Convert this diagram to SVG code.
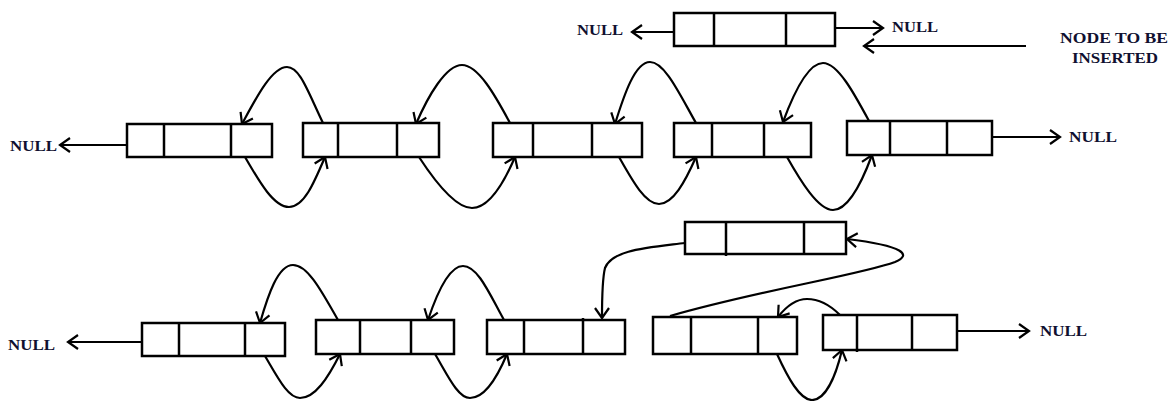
<svg xmlns="http://www.w3.org/2000/svg" width="1171" height="401" viewBox="0 0 1171 401">
<style>
.box{fill:#fff;stroke:#000;stroke-width:2.5}
.div{stroke:#000;stroke-width:2.5}
.c{fill:none;stroke:#000;stroke-width:2.2}
.t{font-family:"Liberation Serif",serif;font-weight:bold;font-size:14px;fill:#101030}
</style>
<defs>
<marker id="ah" viewBox="0 0 14 18" refX="12" refY="9" markerWidth="14" markerHeight="18" markerUnits="userSpaceOnUse" orient="auto">
<path d="M2,2 L12,9 L2,16" fill="none" stroke="#000" stroke-width="2.2"/>
</marker>
</defs>
<rect width="1171" height="401" fill="#fff"/>

<g id="connectors">
<path class="c" marker-end="url(#ah)" d="M674,32 L632,32"/>
<path class="c" marker-end="url(#ah)" d="M835,28 L883,28"/>
<path class="c" marker-end="url(#ah)" d="M1026,46 L864,46"/>
<path class="c" marker-end="url(#ah)" d="M129,145 L60,145"/>
<path class="c" marker-end="url(#ah)" d="M992,137 L1060,137"/>
<path class="c" marker-end="url(#ah)" d="M145,342 L68,342"/>
<path class="c" marker-end="url(#ah)" d="M957,331 L1029,331"/>

<path class="c" marker-end="url(#ah)" d="M323,123 C308,92 300,67 287,67 C272,67 256,98 242,124"/>
<path class="c" marker-end="url(#ah)" d="M245,157 C260,183 274,207 289,207 C304,207 314,183 325,157"/>
<path class="c" marker-end="url(#ah)" d="M510,123 C495,95 478,65 462,65 C446,65 428,96 416,124"/>
<path class="c" marker-end="url(#ah)" d="M419,157 C434,180 455,208 472,208 C489,208 503,185 515,157"/>
<path class="c" marker-end="url(#ah)" d="M696,123 C680,95 665,62 650,62 C635,62 624,95 615,124"/>
<path class="c" marker-end="url(#ah)" d="M619,157 C632,180 645,204 659,204 C673,204 685,182 696,157"/>
<path class="c" marker-end="url(#ah)" d="M869,121 C855,95 838,63 823,63 C808,63 793,95 783,122"/>
<path class="c" marker-end="url(#ah)" d="M787,157 C800,180 818,210 833,210 C848,210 862,182 872,155"/>

<path class="c" marker-end="url(#ah)" d="M338,320 C322,292 308,265 293,265 C278,265 268,295 260,323"/>
<path class="c" marker-end="url(#ah)" d="M265,356 C278,378 288,398 300,398 C315,398 328,378 340,354"/>
<path class="c" marker-end="url(#ah)" d="M504,320 C490,295 478,266 463,266 C448,266 436,296 428,320"/>
<path class="c" marker-end="url(#ah)" d="M435,354 C448,376 458,398 470,398 C485,398 497,378 507,354"/>
<path class="c" marker-end="url(#ah)" d="M840,315 C830,305 820,299 807,299 C795,299 785,308 778,317"/>
<path class="c" marker-end="url(#ah)" d="M777,354 C788,378 800,400 812,400 C826,400 836,375 842,350"/>

<path class="c" marker-end="url(#ah)" d="M685,243 C645,248 612,250 605,268 C602,280 602,300 602,318"/>
<path class="c" marker-end="url(#ah)" d="M670,316 C760,290 860,275 895,262 C912,255 905,246 847,239"/>
</g>

<g id="node-new">
<rect class="box" x="674" y="13" width="161" height="33"/>
<line class="div" x1="714" y1="13" x2="714" y2="47"/>
<line class="div" x1="786" y1="13" x2="786" y2="47"/>
</g>
<g id="node-a">
<rect class="box" x="127" y="124" width="145" height="33"/>
<line class="div" x1="164" y1="124" x2="164" y2="157"/>
<line class="div" x1="231" y1="124" x2="231" y2="158"/>
</g>
<g id="node-b">
<rect class="box" x="303" y="123" width="136" height="34"/>
<line class="div" x1="338" y1="123" x2="338" y2="157"/>
<line class="div" x1="397" y1="123" x2="397" y2="157"/>
</g>
<g id="node-c">
<rect class="box" x="493" y="123" width="149" height="34"/>
<line class="div" x1="533" y1="123" x2="533" y2="157"/>
<line class="div" x1="592" y1="123" x2="592" y2="157"/>
</g>
<g id="node-d">
<rect class="box" x="674" y="123" width="137" height="34"/>
<line class="div" x1="712" y1="123" x2="712" y2="158"/>
<line class="div" x1="764" y1="123" x2="764" y2="158"/>
</g>
<g id="node-e">
<rect class="box" x="847" y="121" width="145" height="34"/>
<line class="div" x1="890" y1="121" x2="890" y2="155"/>
<line class="div" x1="947" y1="121" x2="947" y2="156"/>
</g>
<g id="node-f">
<rect class="box" x="142" y="323" width="143" height="33"/>
<line class="div" x1="179" y1="323" x2="179" y2="356"/>
<line class="div" x1="245" y1="323" x2="245" y2="357"/>
</g>
<g id="node-g">
<rect class="box" x="316" y="320" width="138" height="34"/>
<line class="div" x1="360" y1="320" x2="360" y2="354"/>
<line class="div" x1="411" y1="320" x2="411" y2="354"/>
</g>
<g id="node-h">
<rect class="box" x="487" y="320" width="138" height="34"/>
<line class="div" x1="524" y1="320" x2="524" y2="354"/>
<line class="div" x1="583" y1="318" x2="583" y2="354"/>
</g>
<g id="node-i">
<rect class="box" x="653" y="317" width="144" height="37"/>
<line class="div" x1="691" y1="317" x2="691" y2="355"/>
<line class="div" x1="758" y1="317" x2="758" y2="354"/>
</g>
<g id="node-j">
<rect class="box" x="823" y="315" width="134" height="35"/>
<line class="div" x1="857" y1="314" x2="857" y2="352"/>
<line class="div" x1="912" y1="315" x2="912" y2="350"/>
</g>
<g id="node-k">
<rect class="box" x="685" y="222" width="161" height="32"/>
<line class="div" x1="726" y1="222" x2="726" y2="256"/>
<line class="div" x1="804" y1="222" x2="804" y2="254"/>
</g>

<g id="labels">
<text class="t" x="577" y="35" textLength="46" lengthAdjust="spacingAndGlyphs">NULL</text>
<text class="t" x="892" y="32" textLength="46" lengthAdjust="spacingAndGlyphs">NULL</text>
<text class="t" x="1060" y="43" textLength="108" lengthAdjust="spacingAndGlyphs">NODE TO BE</text>
<text class="t" x="1072" y="63" textLength="86" lengthAdjust="spacingAndGlyphs">INSERTED</text>
<text class="t" x="10" y="151" textLength="47" lengthAdjust="spacingAndGlyphs">NULL</text>
<text class="t" x="1069" y="142" textLength="48" lengthAdjust="spacingAndGlyphs">NULL</text>
<text class="t" x="8" y="350" textLength="47" lengthAdjust="spacingAndGlyphs">NULL</text>
<text class="t" x="1040" y="336" textLength="47" lengthAdjust="spacingAndGlyphs">NULL</text>
</g>
</svg>
